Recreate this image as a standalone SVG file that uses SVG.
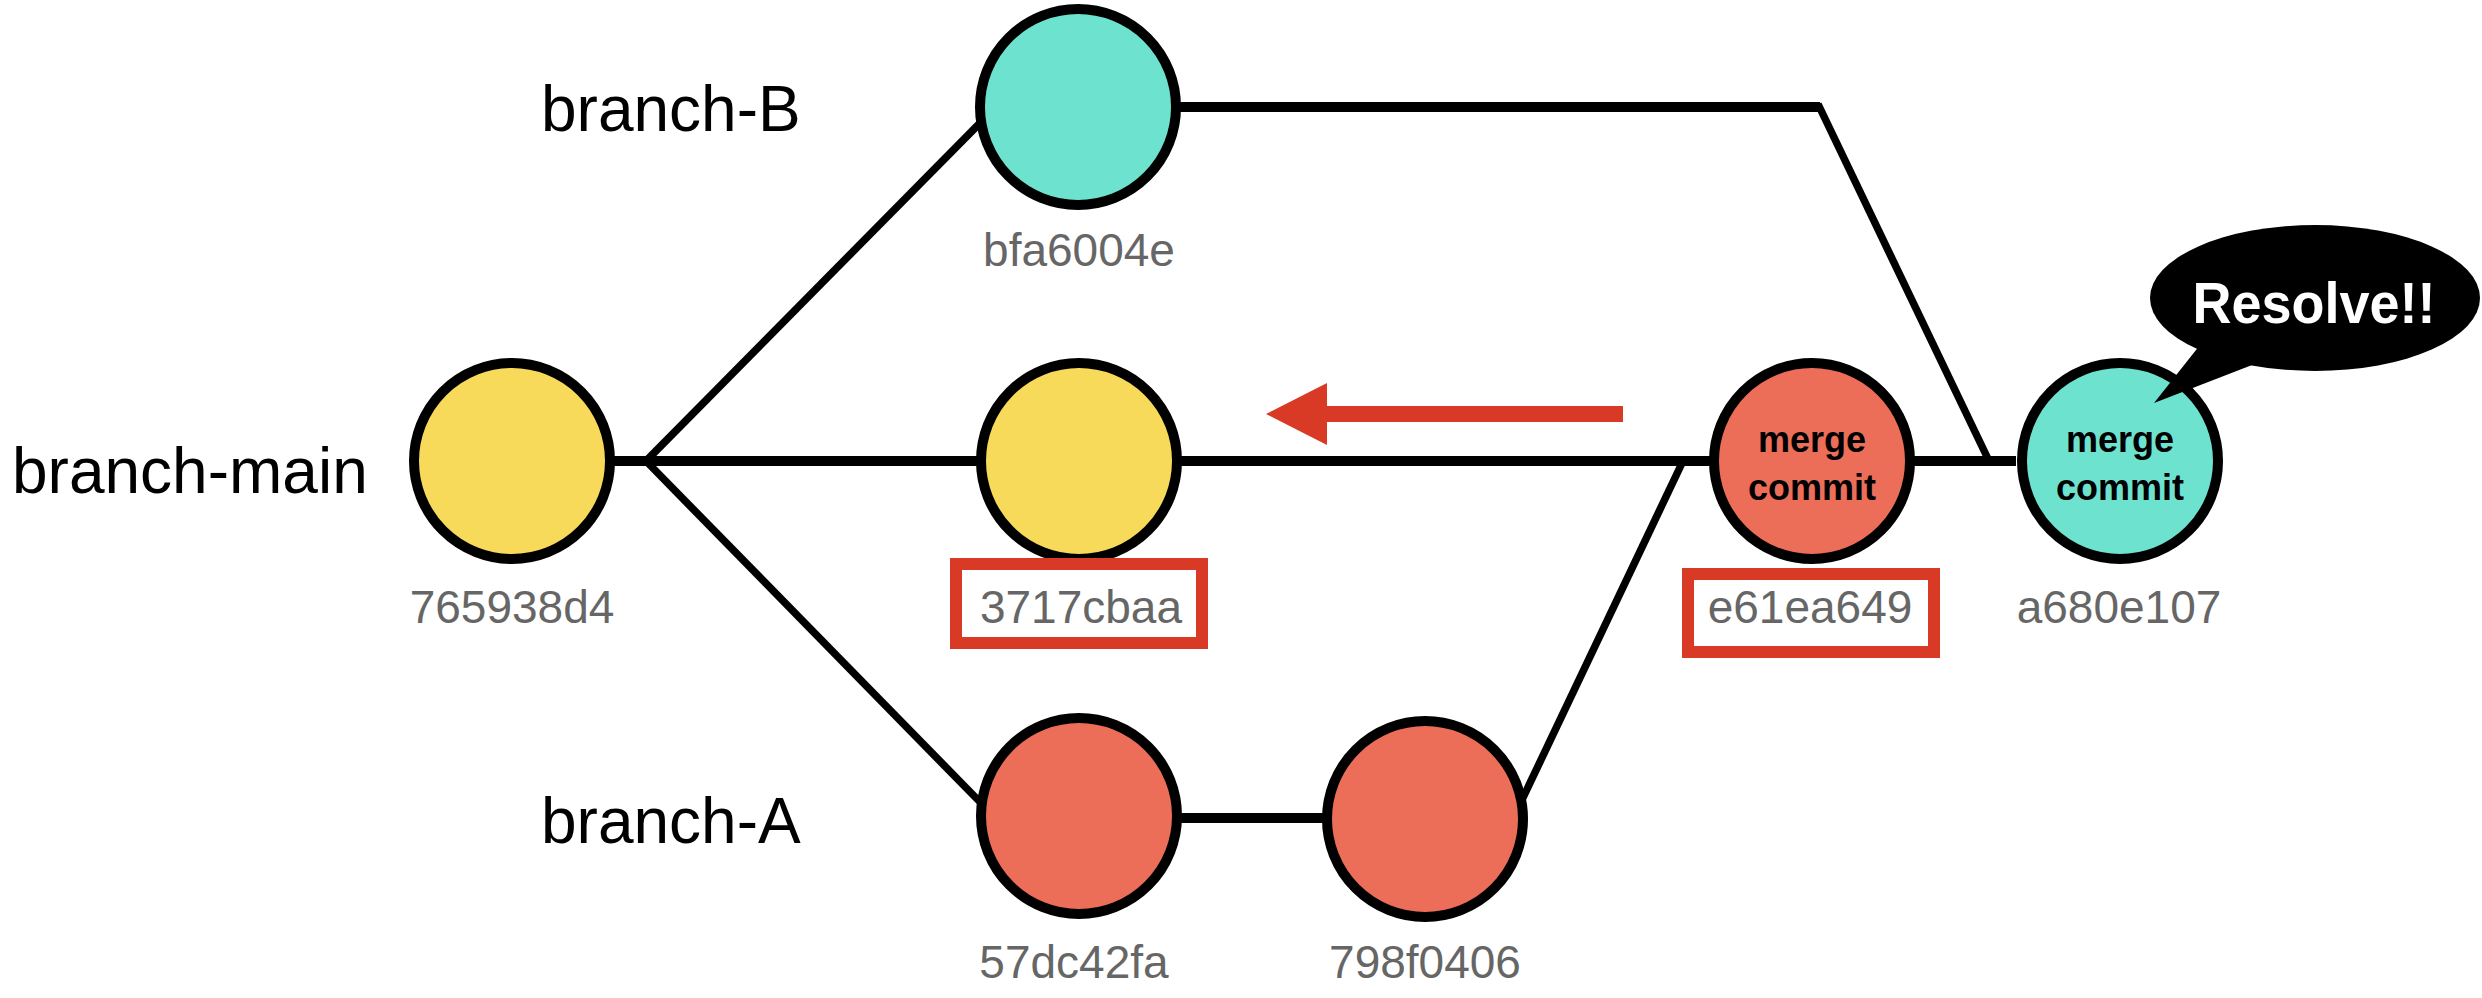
<svg xmlns="http://www.w3.org/2000/svg" width="2482" height="998" viewBox="0 0 2482 998">
<style>
.h{stroke:#000;stroke-width:10;fill:none}
.d{stroke:#000;stroke-width:7.5;fill:none}
.node{stroke:#000;stroke-width:10}
.y{fill:#F8DA5A}.t{fill:#6DE3CF}.r{fill:#EC6E58}
.br{font-family:"Liberation Sans",Arial,sans-serif;font-size:64px;fill:#000}
.hash{font-family:"Liberation Sans",Arial,sans-serif;font-size:46px;fill:#666;text-anchor:middle}
.mc{font-family:"Liberation Sans",Arial,sans-serif;font-size:36px;font-weight:bold;fill:#000;text-anchor:middle}
.box{fill:none;stroke:#D93A26;stroke-width:12}
</style>
<rect width="2482" height="998" fill="#fff"/>
<g id="connectors">
<line class="h" x1="606" y1="461" x2="2016" y2="461"/>
<line class="d" x1="646" y1="461" x2="980" y2="123"/>
<line class="d" x1="646" y1="461" x2="980" y2="802"/>
<line class="h" x1="1150" y1="818" x2="1350" y2="818"/>
<line class="d" x1="1520" y1="804" x2="1683" y2="461"/>
<line class="h" x1="1150" y1="107" x2="1820" y2="107"/>
<line class="d" x1="1818" y1="104" x2="1989" y2="461"/>
</g>
<g id="labels">
<text class="br" x="12" y="493">branch-main</text>
<text class="br" x="541" y="131">branch-B</text>
<text class="br" x="541" y="843">branch-A</text>
</g>
<g id="n765938d4"><circle class="node y" cx="512" cy="461" r="98"/><text class="hash" x="512" y="623">765938d4</text></g>
<g id="nbfa6004e"><circle class="node t" cx="1078" cy="107" r="98"/><text class="hash" x="1079" y="266">bfa6004e</text></g>
<g id="n3717cbaa"><circle class="node y" cx="1079" cy="461" r="98"/><rect class="box" x="956" y="564" width="246" height="79"/><text class="hash" x="1081" y="623">3717cbaa</text></g>
<g id="n57dc42fa"><circle class="node r" cx="1079" cy="816" r="98"/><text class="hash" x="1074" y="978">57dc42fa</text></g>
<g id="n798f0406"><circle class="node r" cx="1425" cy="819" r="98"/><text class="hash" x="1425" y="978">798f0406</text></g>
<g id="ne61ea649"><circle class="node r" cx="1812" cy="461" r="98"/><text class="mc" x="1812" y="452">merge</text><text class="mc" x="1812" y="500">commit</text><rect class="box" x="1688" y="574" width="246" height="78"/><text class="hash" x="1810" y="623">e61ea649</text></g>
<g id="na680e107"><circle class="node t" cx="2120" cy="461" r="98"/><text class="mc" x="2120" y="452">merge</text><text class="mc" x="2120" y="500">commit</text><text class="hash" x="2119" y="623">a680e107</text></g>
<g id="arrow"><rect x="1325" y="406" width="298" height="16" fill="#D93A26"/><polygon points="1266,414 1327,383 1327,445" fill="#D93A26"/></g>
<g id="bubble"><ellipse cx="2315" cy="298" rx="165" ry="73" fill="#000"/><polygon points="2200,345 2265,360 2154,403" fill="#000"/><text x="2314" y="323" font-family="Liberation Sans,Arial,sans-serif" font-size="58" font-weight="bold" fill="#fff" text-anchor="middle" textLength="243" lengthAdjust="spacingAndGlyphs">Resolve!!</text></g>
</svg>
